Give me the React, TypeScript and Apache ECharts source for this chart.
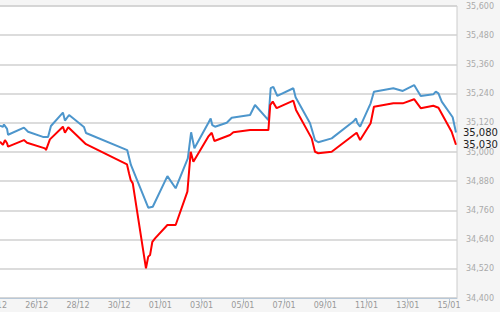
import React, { useEffect, useRef } from "react";
import * as echarts from "echarts";

// x = days after 24/12, y = index value
const dayLabels = ["24/12", "26/12", "28/12", "30/12", "01/01", "03/01", "05/01", "07/01", "09/01", "11/01", "13/01", "15/01"];

const blueSeries: [number, number][] = [
  [0.218, 35108], [0.36, 35103], [0.41, 35113], [0.56, 35095], [0.61, 35071], [1.38, 35100], [1.58, 35083],
  [2.3, 35062], [2.55, 35062], [2.69, 35107], [3.27, 35162], [3.37, 35129], [3.57, 35152], [4.29, 35103],
  [4.39, 35078], [6.39, 35008], [6.57, 34947], [7.41, 34771], [7.63, 34775], [8.34, 34901], [8.74, 34851],
  [9.33, 34974], [9.49, 35081], [9.65, 35015], [10.33, 35120], [10.44, 35138], [10.52, 35110], [10.65, 35104],
  [11.22, 35120], [11.46, 35141], [12.35, 35152], [12.59, 35193], [13.24, 35131], [13.35, 35262], [13.48, 35268],
  [13.67, 35231], [14.45, 35262], [14.56, 35225], [15.26, 35118], [15.5, 35049], [15.66, 35040], [16.31, 35056],
  [17.36, 35125], [17.49, 35138], [17.55, 35120], [17.69, 35104], [18.2, 35200], [18.36, 35248], [19.3, 35262],
  [19.76, 35251], [20.31, 35275], [20.63, 35230], [21.24, 35237], [21.36, 35248], [21.49, 35241], [21.65, 35207],
  [22.18, 35143], [22.34, 35080],
];

const redSeries: [number, number][] = [
  [0.218, 35042], [0.36, 35029], [0.46, 35049], [0.56, 35036], [0.61, 35022], [1.38, 35049], [1.53, 35038],
  [2.4, 35015], [2.45, 35008], [2.64, 35052], [3.27, 35104], [3.37, 35079], [3.53, 35102], [4.39, 35032],
  [6.38, 34949], [6.48, 34912], [6.56, 34885], [6.66, 34871], [7.3, 34522], [7.41, 34570], [7.5, 34577],
  [7.61, 34631], [7.74, 34645], [8.34, 34700], [8.74, 34700], [9.31, 34837], [9.47, 35001], [9.6, 34960],
  [10.32, 35063], [10.49, 35079], [10.62, 35045], [11.38, 35070], [11.54, 35081], [12.35, 35090], [13.24, 35090],
  [13.33, 35193], [13.45, 35207], [13.64, 35180], [14.45, 35211], [14.58, 35173], [15.34, 35056], [15.5, 35001],
  [15.66, 34995], [16.31, 35001], [17.52, 35079], [17.69, 35049], [18.2, 35118], [18.36, 35186], [19.3, 35200],
  [19.76, 35200], [20.31, 35217], [20.63, 35180], [21.24, 35190], [21.49, 35182], [22.13, 35083], [22.34, 35030],
];

const fmt = (v: number) => Math.round(v).toLocaleString("en-US");

export default function App() {
  const ref = useRef<HTMLDivElement>(null);
  useEffect(() => {
    if (!ref.current) return;
    const chart = echarts.init(ref.current, undefined, { renderer: "svg" });
    const font = "DejaVu Sans";
    chart.setOption({
      animation: false,
      backgroundColor: "#f5f5f5",
      grid: {
        left: -4.5,
        right: 43,
        top: 6,
        bottom: 14,
        containLabel: false,
        outerBoundsMode: "none",
        show: true,
        backgroundColor: "#ffffff",
        borderColor: "#cccccc",
        borderWidth: 1,
      },
      xAxis: {
        type: "value",
        min: 0,
        max: 22.39,
        interval: 2,
        splitLine: { show: false },
        axisLine: { show: true, lineStyle: { color: "#b8c8d8", width: 1 } },
        axisTick: { show: true, length: 5, lineStyle: { color: "#b8c8d8" } },
        axisLabel: {
          showMaxLabel: false,
          fontSize: 8,
          fontFamily: font,
          color: "#999999",
          margin: 3,
          formatter: (v: number) => (v % 2 === 0 && dayLabels[v / 2] ? dayLabels[v / 2] : ""),
        },
      },
      yAxis: {
        type: "value",
        position: "right",
        min: 34400,
        max: 35600,
        interval: 120,
        axisLine: { show: false },
        axisTick: { show: false },
        splitLine: { show: true, lineStyle: { color: "#d0d0d0", width: 1.5 } },
        axisLabel: {
          fontSize: 8,
          fontFamily: font,
          color: "#aaaaaa",
          margin: 9,
          formatter: (v: number) => fmt(v),
        },
      },
      series: [
        {
          type: "line",
          data: blueSeries,
          showSymbol: false,
          lineStyle: { color: "#4d96cc", width: 2 },
          itemStyle: { color: "#4d96cc" },
          endLabel: {
            show: true,
            distance: 7,
            fontSize: 10,
            fontFamily: font,
            color: "#222222",
            formatter: (p: any) => fmt(p.value[1]),
          },
        },
        {
          type: "line",
          data: redSeries,
          showSymbol: false,
          lineStyle: { color: "#ff0000", width: 2 },
          itemStyle: { color: "#ff0000" },
          endLabel: {
            show: true,
            distance: 7,
            fontSize: 10,
            fontFamily: font,
            color: "#222222",
            formatter: (p: any) => fmt(p.value[1]),
          },
        },
      ],
    });
    return () => chart.dispose();
  }, []);
  return <div ref={ref} style={{ position: "fixed", left: 0, top: 0, width: 500, height: 312 }} />;
}
